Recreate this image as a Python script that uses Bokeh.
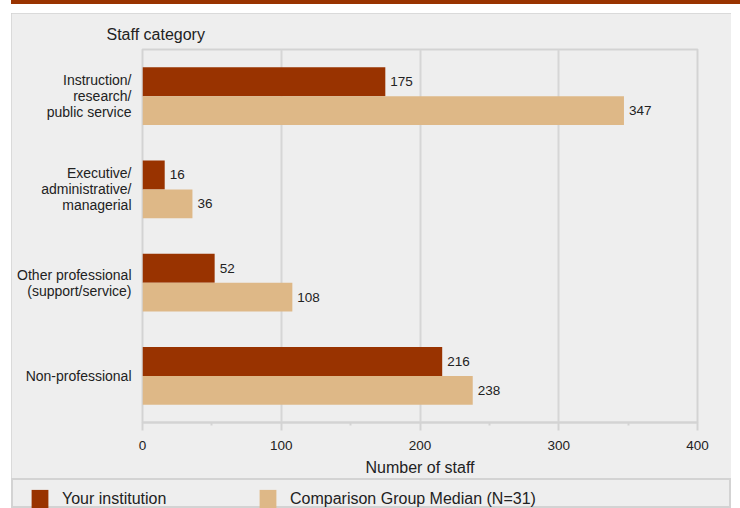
from bokeh.plotting import figure
from bokeh.layouts import column
from bokeh.models import (FactorRange, ColumnDataSource, LabelSet, Div,
                          Legend, LegendItem, FixedTicker, Range1d)
from bokeh.core.properties import value
from bokeh.transform import dodge
from bokeh.embed import file_html
from bokeh.resources import INLINE

categories = ["Instruction/\nresearch/\npublic service",
              "Executive/\nadministrative/\nmanagerial",
              "Other professional\n(support/service)",
              "Non-professional"]
institution = [175, 16, 52, 216]
comparison = [347, 36, 108, 238]
x_ticks = [0, 100, 200, 300, 400]
x_minor_ticks = [50, 150, 250, 350]
series_names = ["Your institution", "Comparison Group Median (N=31)"]

RED = "#993300"
TAN = "#deb887"
GRID = "#d6d6d6"
BORDER = "#d3d3d3"
BG = "#eeeeee"
FONT = "Liberation Sans"
TXT = "#222222"

src = ColumnDataSource(dict(cat=categories, inst=institution, comp=comparison,
                            inst_lbl=[str(v) for v in institution],
                            comp_lbl=[str(v) for v in comparison]))

# red band at the very top
band = Div(text="", width=729, height=4, margin=(0, 0, 9, 11),
           styles={"background-color": RED})

p = figure(width=720, height=465, output_backend="svg", toolbar_location=None,
           y_range=FactorRange(factors=categories[::-1]), x_range=(0, 400),
           min_border_left=131, min_border_right=34, min_border_top=36,
           min_border_bottom=55, margin=(0, 0, 0, 11))
p.frame_align = False
p.styles = {"outline": "2px solid " + BORDER, "outline-offset": "-2px"}

p.border_fill_color = BG
p.background_fill_color = BG
p.outline_line_color = BORDER
p.outline_line_width = 2

r1 = p.hbar(y=dodge("cat", 0.155, range=p.y_range), right="inst", left=0, height=0.31,
            source=src, fill_color=RED, line_color=None)
r2 = p.hbar(y=dodge("cat", -0.155, range=p.y_range), right="comp", left=0, height=0.31,
            source=src, fill_color=TAN, line_color=None)

for col, lbl, off in (("inst", "inst_lbl", 0.155), ("comp", "comp_lbl", -0.155)):
    p.add_layout(LabelSet(x=col, y=dodge("cat", off, range=p.y_range), text=lbl,
                          source=src, x_offset=5, text_baseline="middle",
                          text_font=value(FONT), text_font_size="13.5px",
                          text_color=TXT))

# title as y-axis caption
p.title.text = "Staff category"
p.title.align = "left"
p.title.offset = -36
p.title.standoff = 14
p.title.text_font = FONT
p.title.text_font_size = "16px"
p.title.text_font_style = "normal"
p.title.text_color = TXT

# x axis
xa = p.xaxis[0]
xa.ticker = FixedTicker(ticks=x_ticks, minor_ticks=x_minor_ticks)
xa.axis_line_color = BORDER
xa.axis_line_width = 2
xa.major_tick_line_color = BORDER
xa.major_tick_line_width = 2
xa.major_tick_in = 0
xa.major_tick_out = 8
xa.minor_tick_line_color = BORDER
xa.minor_tick_line_width = 2
xa.minor_tick_in = 0
xa.minor_tick_out = 3
xa.major_label_text_font = FONT
xa.major_label_text_font_size = "13.5px"
xa.major_label_text_color = TXT
xa.major_label_text_line_height = 1.0
xa.major_label_standoff = 10
xa.axis_label = "Number of staff"
xa.axis_label_text_font = FONT
xa.axis_label_text_font_size = "16px"
xa.axis_label_text_font_style = "normal"
xa.axis_label_text_color = TXT
xa.axis_label_text_line_height = 1.0
xa.axis_label_standoff = 6

ya = p.yaxis[0]
ya.axis_line_color = None
ya.major_tick_line_color = None
ya.minor_tick_line_color = None
ya.major_label_text_font = FONT
ya.major_label_text_font_size = "14px"
ya.major_label_text_color = TXT
ya.major_label_text_line_height = 1.0
ya.major_label_standoff = 5

p.xgrid.ticker = FixedTicker(ticks=x_ticks)
p.xgrid.grid_line_color = GRID
p.xgrid.grid_line_width = 2
p.ygrid.grid_line_color = None
p.y_range.range_padding = 0

# legend strip (its own small plot; swatches come from off-view copies of the bars)
lg = figure(width=720, height=30, output_backend="svg", toolbar_location=None,
            x_axis_location=None, y_axis_location=None,
            x_range=Range1d(-20, -10), y_range=Range1d(-20, -10),
            min_border=0, margin=(0, 0, 0, 11))
lg.frame_align = False
lg.border_fill_color = BG
lg.background_fill_color = BG
lg.outline_line_color = BORDER
lg.outline_line_width = 3
lg.grid.grid_line_color = None
d1 = lg.hbar(y="inst", right="inst", left=0, height=1, source=src,
             fill_color=RED, line_color=None)
d2 = lg.hbar(y="comp", right="comp", left=0, height=1, source=src,
             fill_color=TAN, line_color=None)

legend = Legend(items=[LegendItem(label=series_names[0], renderers=[d1], index=0),
                       LegendItem(label=series_names[1], renderers=[d2], index=0)],
                orientation="horizontal", location=(18, -3),
                glyph_width=21, glyph_height=24, label_standoff=12,
                label_width=180, spacing=15, padding=0, margin=0,
                border_line_color=None, background_fill_alpha=0,
                label_text_font=FONT, label_text_font_size="16px",
                label_text_color=TXT)
lg.add_layout(legend)

page = column(band, p, lg, spacing=0)
open("out.html", "w").write(file_html(page, INLINE))
